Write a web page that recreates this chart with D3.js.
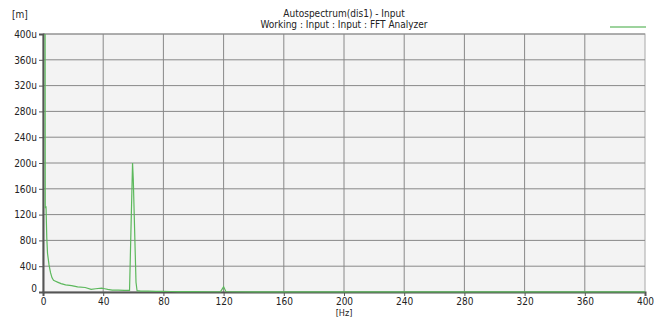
<!DOCTYPE html>
<html>
<head>
<meta charset="utf-8">
<script src="https://cdn.jsdelivr.net/npm/d3@7"></script>
<style>
  body { margin: 0; background: #ffffff; }
  text { font-family: "Liberation Sans Narrow", "DejaVu Sans Condensed", "Liberation Sans", sans-serif; fill: #222; }
</style>
</head>
<body>
<div id="chart"></div>
<script>
// Spectrum, amplitude in micro-metres (u)
const freqHz = [1, 1.5, 2, 2.5, 3, 4, 5, 6, 7, 8, 10, 12, 15, 19, 23, 28, 32, 35, 39, 41, 43, 46, 50, 54, 57.5,
                59.5, 60, 61.8, 62.5, 65, 70, 75, 80, 85, 90, 100, 110, 118, 120, 121.5, 125, 150, 200, 250, 300, 350, 400];
const ampU   = [1500, 130, 133, 85, 60, 42, 30, 22, 18, 17, 15, 13, 11, 10, 8, 7, 4, 5, 6, 5, 4, 3, 3, 2.5, 2.5,
                200, 174, 15, 2, 1.5, 1.5, 1, 1.2, 0.8, 0.6, 0.5, 0.4, 0.5, 8, 0.8, 0.4, 0.3, 0.3, 0.3, 0.2, 0.2, 0.2];

const xTicks = [0, 40, 80, 120, 160, 200, 240, 280, 320, 360, 400];
const yTicks = [0, 40, 80, 120, 160, 200, 240, 280, 320, 360, 400];

const titleLines = ['Autospectrum(dis1) - Input', 'Working : Input : Input : FFT Analyzer'];

const width = 658, height = 320;
const margin = {top: 34, right: 13, bottom: 28, left: 43};
const lineColor = '#5cb85c';

const svg = d3.select('#chart')
              .append('svg')
              .attr('width', width)
              .attr('height', height);

const scaleX = d3.scaleLinear().domain([0, 400]).range([margin.left, width - margin.right]);
const scaleY = d3.scaleLinear().domain([0, 400]).range([height - margin.bottom, margin.top]);

// plot background
svg.append('rect')
   .attr('x', scaleX(0))
   .attr('y', scaleY(400))
   .attr('width', scaleX(400) - scaleX(0))
   .attr('height', scaleY(0) - scaleY(400))
   .style('fill', '#f3f3f3')
   .style('stroke', '#a8a8a8')
   .style('stroke-width', 1);

// grid
svg.append('g')
   .selectAll('line')
   .data(xTicks.slice(1, -1))
   .enter()
   .append('line')
   .attr('x1', d => scaleX(d)).attr('x2', d => scaleX(d))
   .attr('y1', scaleY(400)).attr('y2', scaleY(0))
   .style('stroke', '#888')
   .style('stroke-width', 1);

svg.append('g')
   .selectAll('line')
   .data(yTicks.slice(1))
   .enter()
   .append('line')
   .attr('x1', scaleX(0)).attr('x2', scaleX(400))
   .attr('y1', d => scaleY(d)).attr('y2', d => scaleY(d))
   .style('stroke', '#888')
   .style('stroke-width', 1);

// axes
const xAxis = d3.axisBottom(scaleX).tickValues(xTicks).tickSize(4).tickPadding(2).tickFormat(d3.format('d'));
const yAxis = d3.axisLeft(scaleY).tickValues(yTicks).tickSize(4).tickPadding(2)
                .tickFormat(d => d === 0 ? '0' : d + 'u');

const xAxisGroup = svg.append('g')
                      .attr('transform', 'translate(0,' + (height - margin.bottom) + ')')
                      .call(xAxis);
const yAxisGroup = svg.append('g')
                      .attr('transform', 'translate(' + margin.left + ',0)')
                      .call(yAxis);

[xAxisGroup, yAxisGroup].forEach(g => {
    g.select('.domain').style('stroke', '#555').style('stroke-width', 2);
    g.selectAll('.tick line').style('stroke', '#555');
    g.selectAll('.tick text').style('font-size', '10px').style('fill', '#222');
});
yAxisGroup.selectAll('.tick text').filter(d => d === 0).attr('dy', '-0.1em');

// data line
svg.append('clipPath')
   .attr('id', 'clip')
   .append('rect')
   .attr('x', scaleX(0))
   .attr('y', scaleY(400))
   .attr('width', scaleX(400) - scaleX(0))
   .attr('height', scaleY(0) - scaleY(400) + 1);

const line = d3.line()
               .x((d, i) => scaleX(d))
               .y((d, i) => scaleY(ampU[i]));

svg.append('path')
   .datum(freqHz)
   .attr('clip-path', 'url(#clip)')
   .attr('d', line)
   .style('fill', 'none')
   .style('stroke', lineColor)
   .style('stroke-width', 1.2);

// legend swatch
svg.append('line')
   .attr('x1', 610).attr('x2', 646)
   .attr('y1', 27).attr('y2', 27)
   .style('stroke', '#7cc47c')
   .style('stroke-width', 1.5);

// titles and units
svg.selectAll('.title')
   .data(titleLines)
   .enter()
   .append('text')
   .attr('class', 'title')
   .attr('x', (scaleX(0) + scaleX(400)) / 2)
   .attr('y', (d, i) => 17 + i * 11)
   .style('text-anchor', 'middle')
   .style('font-size', '10px')
   .text(d => d);

svg.append('text')
   .attr('x', 12)
   .attr('y', 18)
   .style('font-size', '10px')
   .text('[m]');

svg.append('text')
   .attr('x', scaleX(200))
   .attr('y', 316)
   .style('text-anchor', 'middle')
   .style('font-size', '9px')
   .text('[Hz]');
</script>
</body>
</html>
